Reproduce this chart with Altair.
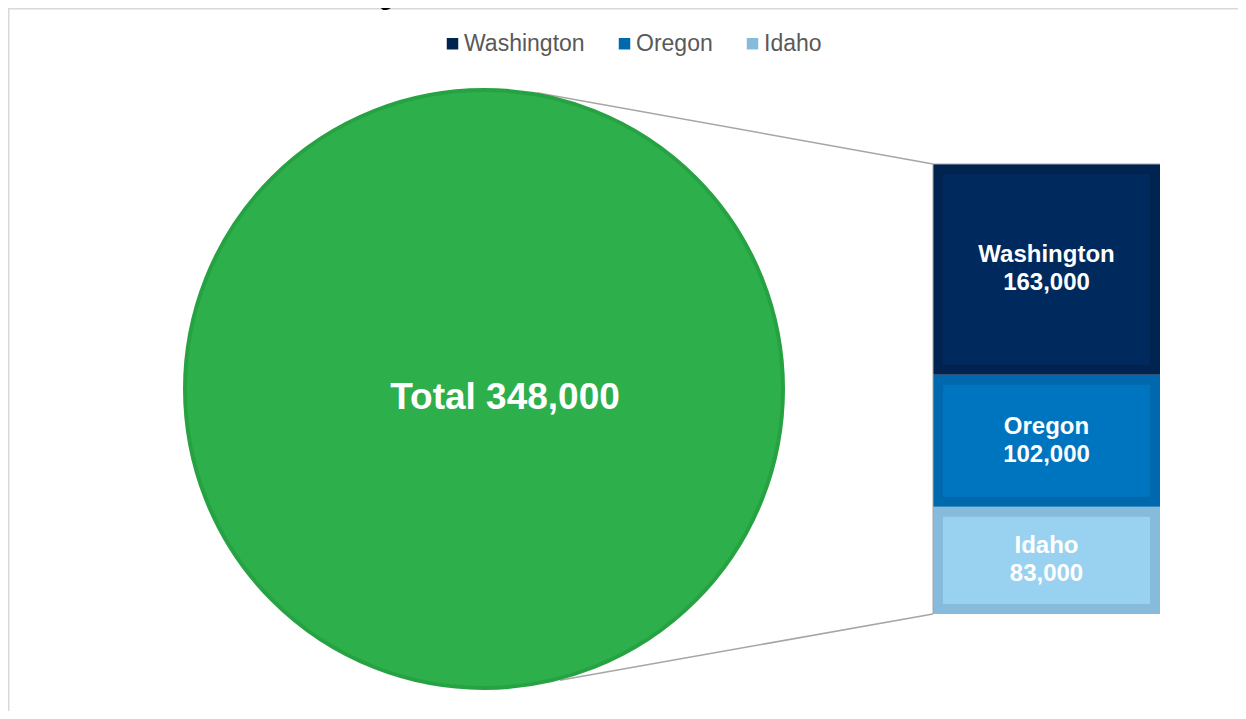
import math
import altair as alt
import numpy as np
import pandas as pd

# ---------------- data ----------------
title_text = "Figure 2-1: Tri-State Natural Gas Customer Counts"
states = ["Washington", "Oregon", "Idaho"]
customers = [163000, 102000, 83000]
total_label = "Total 348,000"

outer_colors = ["#00244f", "#0069ad", "#86bbdb"]
inner_colors = ["#002a5d", "#0075bf", "#99d1f1"]

# ---------------- layout ----------------
W, H = 1230, 703
cx, cy, R = 476, 381, 299           # pie centre / radius (px)
R_out = R + 2
bar_x0, bar_x1 = 925, 1152
bar_top, bar_bot = 156, 606
inset = 10
FONT = "Liberation Sans"

total = int(sum(customers))

# stacked table (Idaho at the bottom, Washington on top)
order = states[::-1]
vals = np.array(customers[::-1], dtype=float)
y1 = np.cumsum(vals)
y0 = y1 - vals
bars = pd.DataFrame({
    "state": order,
    "value": vals,
    "y0": y0,
    "y1": y1,
    "mid": (y0 + y1) / 2,
})
bars["label"] = [f"{s}\n{int(v):,}" for s, v in zip(order, vals)]

pie_df = pd.DataFrame({"label": [total_label], "value": [total]})
one = pd.DataFrame({"k": [0]})

yscale = alt.Scale(domain=[0, total], range=[bar_bot, bar_top])

# ---------------- frame & title ----------------
frame_left = alt.Chart(one).mark_rule(color="#d9d9d9", strokeWidth=1.5).encode(
    x=alt.value(0.75), y=alt.value(0), y2=alt.value(H))
frame_top = alt.Chart(one).mark_rule(color="#d9d9d9", strokeWidth=1.5).encode(
    x=alt.value(0), x2=alt.value(W), y=alt.value(0.75))
title = alt.Chart(pd.DataFrame({"t": [title_text]})).mark_text(
    font=FONT, fontSize=23, fontWeight="bold", color="#000000",
    align="center", baseline="alphabetic").encode(
    x=alt.value(626), y=alt.value(-3), text="t:N")

# ---------------- connectors ----------------
a_top = math.radians(10.1)
a_bot = math.radians(14.6)
top_pt = (cx + R_out * math.sin(a_top), cy - R_out * math.cos(a_top))
bot_pt = (cx + R_out * math.sin(a_bot), cy + R_out * math.cos(a_bot))
line_col = "#a6a6a6"
conn_top = alt.Chart(one).mark_rule(color=line_col, strokeWidth=1.5).encode(
    x=alt.value(top_pt[0]), y=alt.value(top_pt[1]),
    x2=alt.value(bar_x0), y2=alt.value(bar_top))
conn_bot = alt.Chart(one).mark_rule(color=line_col, strokeWidth=1.5).encode(
    x=alt.value(bot_pt[0]), y=alt.value(bot_pt[1]),
    x2=alt.value(bar_x0), y2=alt.value(bar_bot))

# ---------------- pie ----------------
pie = alt.Chart(pie_df).mark_arc(
    radius=R, fill="#2db04b", stroke="#27a243", strokeWidth=4).encode(
    theta=alt.Theta("value:Q"), x=alt.value(cx), y=alt.value(cy))
pie_text = alt.Chart(pie_df).mark_text(
    font=FONT, fontSize=37, fontWeight="bold", color="white",
    align="center", baseline="middle").encode(
    x=alt.value(cx + 21), y=alt.value(cy + 9), text="label:N")

# ---------------- stacked bar ----------------
bar_outer = alt.Chart(bars).mark_bar().encode(
    x=alt.value(bar_x0), x2=alt.value(bar_x1),
    y=alt.Y("y0:Q", scale=yscale, axis=None),
    y2="y1:Q",
    color=alt.Color("state:N",
                    scale=alt.Scale(domain=states, range=outer_colors),
                    legend=alt.Legend(
                        orient="none", legendX=433, legendY=24,
                        direction="horizontal", title=None,
                        symbolType="square", symbolSize=132,
                        symbolStrokeWidth=0, labelFontSize=23,
                        labelFont=FONT, labelColor="#595959",
                        labelOffset=0, columnPadding=28, padding=0)),
)
bar_inner = alt.Chart(bars).mark_bar(yOffset=-inset, y2Offset=inset).encode(
    x=alt.value(bar_x0 + inset), x2=alt.value(bar_x1 - inset),
    y=alt.Y("y0:Q", scale=yscale, axis=None),
    y2="y1:Q",
    color=alt.Color("state:N",
                    scale=alt.Scale(domain=states, range=inner_colors),
                    legend=None),
)
bar_left = alt.Chart(one).mark_rule(color=line_col, strokeWidth=1).encode(
    x=alt.value(bar_x0), y=alt.value(bar_top), y2=alt.value(bar_bot))
bar_topline = alt.Chart(one).mark_rule(color=line_col, strokeWidth=1).encode(
    x=alt.value(bar_x0), x2=alt.value(bar_x1), y=alt.value(bar_top))
bar_text = alt.Chart(bars).mark_text(
    font=FONT, fontSize=24, fontWeight="bold", color="white",
    align="center", baseline="middle", lineBreak="\n", lineHeight=28,
    dy=-14).encode(
    x=alt.value((bar_x0 + bar_x1) / 2),
    y=alt.Y("mid:Q", scale=yscale, axis=None),
    text="label:N")

chart = alt.layer(
    frame_left, frame_top, title,
    conn_top, conn_bot,
    pie, pie_text,
    bar_outer, bar_inner, bar_left, bar_topline, bar_text,
).resolve_scale(color="independent").properties(
    width=W, height=H, autosize="none", padding=0,
).configure_view(stroke=None).configure(background="white")

chart.save("out.html", embed_options={"renderer": "svg", "actions": False})
